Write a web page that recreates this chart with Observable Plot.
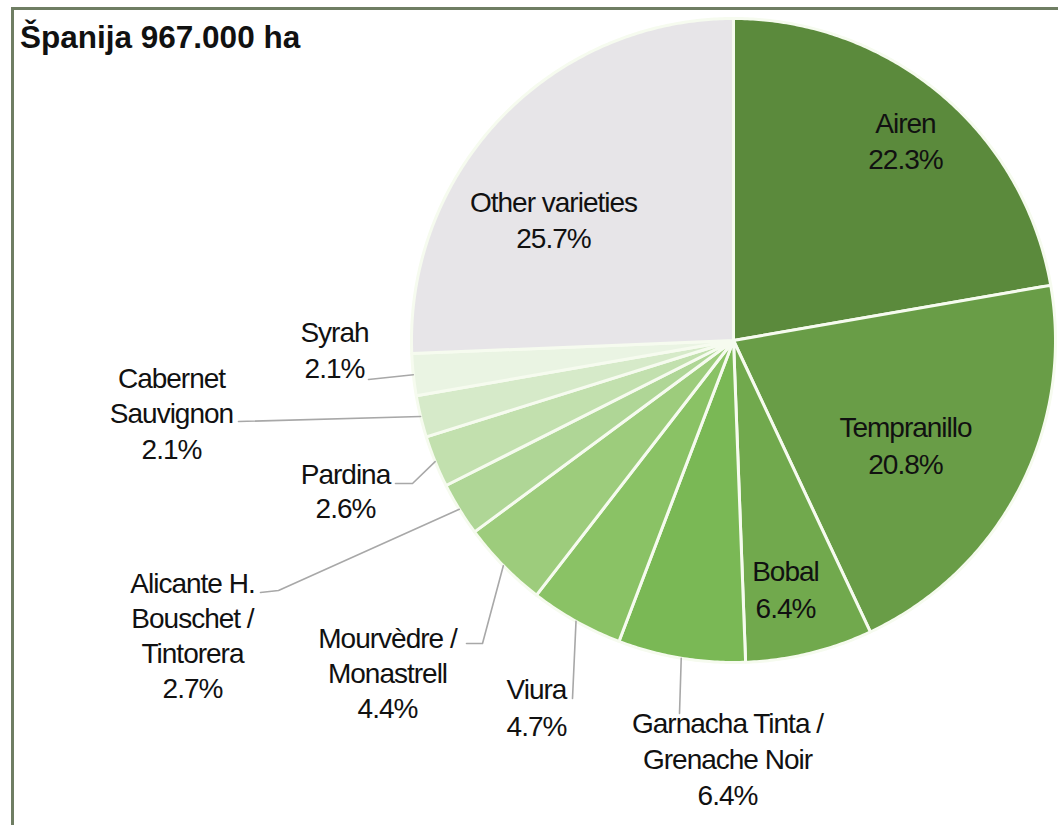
<!DOCTYPE html>
<html>
<head>
<meta charset="utf-8">
<script src="https://cdn.jsdelivr.net/npm/d3@7"></script>
<script src="https://cdn.jsdelivr.net/npm/@observablehq/plot@0.6"></script>
<style>
  html, body { margin: 0; padding: 0; background: #fff; overflow: hidden; }
  #wrap { position: relative; width: 1058px; height: 825px; }
  #frame { position: absolute; left: 11px; top: 7px; width: 1100px; height: 900px;
           border: 3px solid #6f7e63; box-sizing: border-box; pointer-events: none; }
  #title { position: absolute; left: 20px; top: 19px; font-family: "Liberation Sans", Arial, sans-serif;
           font-weight: bold; font-size: 31.5px; line-height: 37px; color: #111; }
  #chart { position: absolute; left: 0; top: 0; }
</style>
</head>
<body>
<div id="wrap">
  <div id="chart"></div>
  <div id="frame"></div>
  <div id="title">Španija 967.000 ha</div>
</div>
<script>
// ---- data ----
const varieties = ["Airen", "Tempranillo", "Bobal", "Garnacha Tinta / Grenache Noir", "Viura",
  "Mourvèdre / Monastrell", "Alicante H. Bouschet / Tintorera", "Pardina", "Cabernet Sauvignon",
  "Syrah", "Other varieties"];
const shares = [22.3, 20.8, 6.4, 6.4, 4.7, 4.4, 2.7, 2.6, 2.1, 2.1, 25.7];
const shareLabels = ["22.3%", "20.8%", "6.4%", "6.4%", "4.7%", "4.4%", "2.7%", "2.6%", "2.1%", "2.1%", "25.7%"];
const nameLines = [["Airen"], ["Tempranillo"], ["Bobal"], ["Garnacha Tinta /", "Grenache Noir"], ["Viura"],
  ["Mourvèdre /", "Monastrell"], ["Alicante H.", "Bouschet /", "Tintorera"], ["Pardina"], ["Cabernet", "Sauvignon"],
  ["Syrah"], ["Other varieties"]];

// ---- styles / layout ----
const sliceColors = ["#5b8a3c", "#699d47", "#71a94d", "#7ab855", "#8ac265", "#9dcc7c", "#afd696",
  "#c2e0ae", "#d6eac9", "#eaf4e3", "#e7e5e8"];
const cx = 733, cy = 340, R = 322;
// label layout: center x and baseline of first line, line step
const labelLayout = [
  {x: 905, y: 132, step: 36},
  {x: 905, y: 436, step: 37},
  {x: 785, y: 580, step: 37},
  {x: 727, y: 732, step: 36},
  {x: 536, y: 698, step: 37},
  {x: 387, y: 647, step: 35},
  {x: 192, y: 592, step: 35},
  {x: 345, y: 483, step: 34},
  {x: 171, y: 387, step: 35.5},
  {x: 334, y: 341, step: 36},
  {x: 553, y: 211, step: 36}
];
// leader line points after the pie-edge point (null = inside label)
const leaderLayout = [null, null, null,
  [[679, 713]],
  [[572, 698]],
  [[482, 643], [466, 643]],
  [[278, 590], [260, 592]],
  [[412, 483], [395, 483]],
  [[238, 421]],
  [[368, 379]],
  null];

const rows = varieties.map((name, i) => ({name, share: shares[i], i}));
const arcs = d3.pie().sort(null).value(d => d.share)(rows);

const px = a => cx + R * Math.sin(a);
const py = a => cy - R * Math.cos(a);

const slicePts = [];
for (const arc of arcs) {
  const name = arc.data.name;
  slicePts.push({name, x: cx, y: cy});
  const n = Math.max(4, Math.ceil((arc.endAngle - arc.startAngle) / (Math.PI / 360)));
  for (let k = 0; k <= n; k++) {
    const a = arc.startAngle + (arc.endAngle - arc.startAngle) * k / n;
    slicePts.push({name, x: px(a), y: py(a)});
  }
  slicePts.push({name, x: cx, y: cy});
}

const leaderPts = [];
arcs.forEach((arc, i) => {
  const lay = leaderLayout[i];
  if (!lay) return;
  const mid = (arc.startAngle + arc.endAngle) / 2;
  const name = arc.data.name;
  leaderPts.push({name, x: px(mid), y: py(mid)});
  for (const [x, y] of lay) leaderPts.push({name, x, y});
});

const textRows = [];
rows.forEach((r, i) => {
  const lines = [...nameLines[i], shareLabels[i]];
  const L = labelLayout[i];
  lines.forEach((t, j) => textRows.push({text: t, x: L.x, y: L.y + j * L.step}));
});

const chart = Plot.plot({
  width: 1058,
  height: 825,
  margin: 0,
  x: {domain: [0, 1058], range: [0, 1058], axis: null},
  y: {domain: [0, 825], range: [0, 825], axis: null},
  color: {domain: varieties, range: sliceColors},
  style: {fontFamily: "'Liberation Sans', Arial, sans-serif", letterSpacing: "-1px", background: "transparent"},
  marks: [
    Plot.line(slicePts, {x: "x", y: "y", z: "name", fill: "name", stroke: "#f6fbef", strokeWidth: 3,
      strokeLinejoin: "round", curve: "linear"}),
    Plot.line(leaderPts, {x: "x", y: "y", z: "name", stroke: "#a8a8a8", strokeWidth: 1.6, curve: "linear"}),
    Plot.text(textRows, {x: "x", y: "y", text: "text", fontSize: 28, fill: "#111", textAnchor: "middle",
      lineAnchor: "bottom"})
  ]
});
document.getElementById("chart").appendChild(chart);
</script>
</body>
</html>
